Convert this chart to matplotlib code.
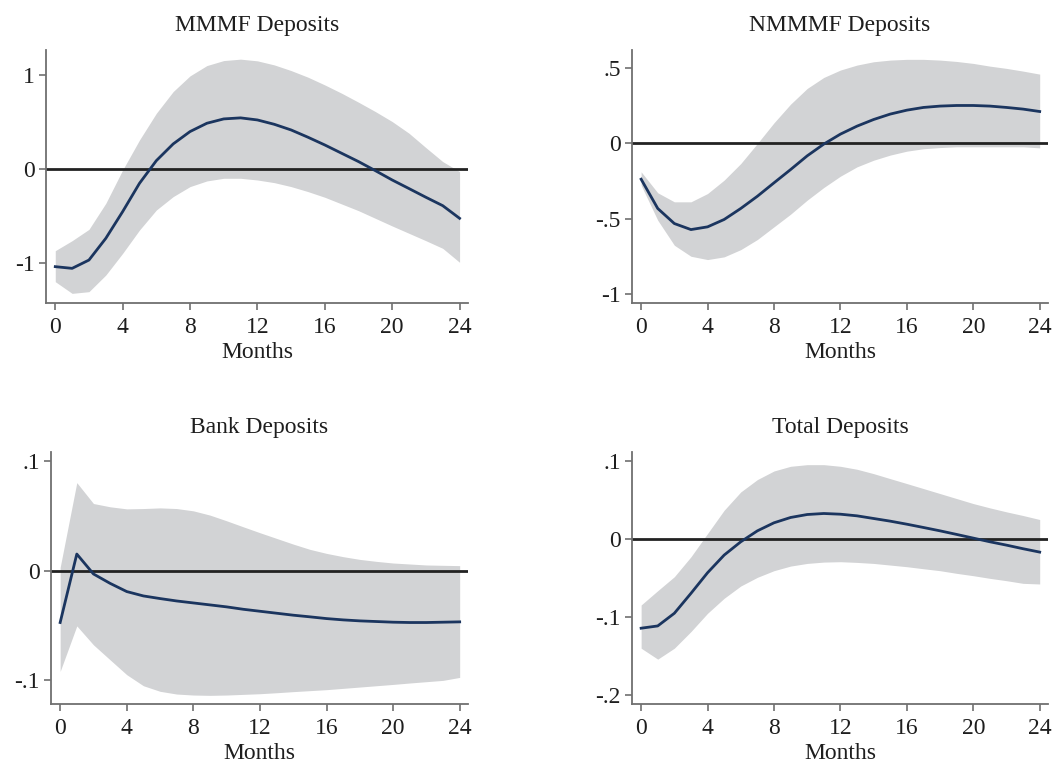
import numpy as np
import matplotlib
matplotlib.use("Agg")
import matplotlib.pyplot as plt

plt.rcParams['font.family'] = ['Liberation Serif', 'DejaVu Serif']

months = np.arange(25)

# point estimates and confidence bands, one set per panel
mmmf_irf = [-1.035, -1.053, -0.965, -0.735, -0.452, -0.152, 0.088, 0.265, 0.396, 0.484,
            0.530, 0.541, 0.519, 0.473, 0.413, 0.336, 0.254, 0.166, 0.078, -0.018,
            -0.117, -0.208, -0.300, -0.389, -0.523]
mmmf_hi = [-0.866, -0.760, -0.640, -0.364, -0.011, 0.307, 0.590, 0.820, 0.986, 1.095,
           1.148, 1.163, 1.145, 1.102, 1.042, 0.972, 0.890, 0.802, 0.707, 0.608,
           0.502, 0.378, 0.226, 0.078, -0.028]
mmmf_lo = [-1.194, -1.318, -1.300, -1.124, -0.894, -0.647, -0.435, -0.293, -0.187, -0.127,
           -0.099, -0.099, -0.117, -0.145, -0.187, -0.240, -0.300, -0.371, -0.442, -0.523,
           -0.604, -0.682, -0.760, -0.841, -0.989]

nmmmf_irf = [-0.237, -0.431, -0.531, -0.571, -0.553, -0.504, -0.431, -0.350, -0.261, -0.173,
             -0.082, -0.004, 0.062, 0.115, 0.159, 0.195, 0.221, 0.239, 0.248, 0.252,
             0.252, 0.248, 0.239, 0.228, 0.212]
nmmmf_hi = [-0.188, -0.327, -0.387, -0.387, -0.332, -0.243, -0.133, 0.000, 0.137, 0.261,
            0.365, 0.438, 0.487, 0.520, 0.542, 0.553, 0.558, 0.558, 0.553, 0.544,
            0.531, 0.513, 0.498, 0.480, 0.460]
nmmmf_lo = [-0.277, -0.509, -0.675, -0.748, -0.770, -0.752, -0.704, -0.637, -0.553, -0.469,
            -0.376, -0.292, -0.217, -0.155, -0.111, -0.077, -0.051, -0.035, -0.027, -0.022,
            -0.022, -0.022, -0.022, -0.022, -0.029]

bank_irf = [-0.0474, 0.0152, -0.0030, -0.0116, -0.0191, -0.0231, -0.0255, -0.0277, -0.0295,
            -0.0313, -0.0331, -0.0353, -0.0371, -0.0389, -0.0407, -0.0422, -0.0438, -0.0450,
            -0.0459, -0.0465, -0.0471, -0.0474, -0.0474, -0.0471, -0.0468]
bank_hi = [0.0030, 0.0805, 0.0614, 0.0584, 0.0565, 0.0568, 0.0574, 0.0568, 0.0547, 0.0508,
           0.0456, 0.0401, 0.0347, 0.0295, 0.0243, 0.0195, 0.0158, 0.0128, 0.0103, 0.0085,
           0.0070, 0.0061, 0.0052, 0.0049, 0.0046]
bank_lo = [-0.0921, -0.0505, -0.0678, -0.0815, -0.0951, -0.1052, -0.1103, -0.1128, -0.1137,
           -0.1140, -0.1137, -0.1131, -0.1125, -0.1116, -0.1106, -0.1097, -0.1088, -0.1076,
           -0.1064, -0.1052, -0.1040, -0.1027, -0.1015, -0.1003, -0.0976]

total_irf = [-0.1140, -0.1111, -0.0949, -0.0694, -0.0430, -0.0204, -0.0034, 0.0106, 0.0209,
             0.0277, 0.0315, 0.0328, 0.0319, 0.0298, 0.0264, 0.0230, 0.0191, 0.0149, 0.0106,
             0.0060, 0.0013, -0.0034, -0.0077, -0.0123, -0.0166]
total_hi = [-0.0843, -0.0660, -0.0481, -0.0226, 0.0072, 0.0370, 0.0604, 0.0762, 0.0872,
            0.0932, 0.0953, 0.0953, 0.0932, 0.0894, 0.0838, 0.0774, 0.0711, 0.0647, 0.0583,
            0.0519, 0.0455, 0.0400, 0.0349, 0.0302, 0.0251]
total_lo = [-0.1396, -0.1536, -0.1396, -0.1183, -0.0949, -0.0757, -0.0600, -0.0489, -0.0404,
            -0.0345, -0.0311, -0.0294, -0.0289, -0.0298, -0.0311, -0.0332, -0.0353, -0.0379,
            -0.0404, -0.0438, -0.0468, -0.0502, -0.0532, -0.0566, -0.0574]

titles = ["MMMF Deposits", "NMMMF Deposits", "Bank Deposits", "Total Deposits"]
ytick_vals = [[-1, 0, 1], [-1, -0.5, 0, 0.5], [-0.1, 0, 0.1], [-0.2, -0.1, 0, 0.1]]
ytick_labels = [["-1", "0", "1"], ["-1", "-.5", "0", ".5"], ["-.1", "0", ".1"],
                ["-.2", "-.1", "0", ".1"]]
ylims = [(-1.42, 1.26), (-1.058, 0.62), (-0.1219, 0.1085), (-0.211, 0.1115)]
xticks = [0, 4, 8, 12, 16, 20, 24]

panels = [(mmmf_irf, mmmf_lo, mmmf_hi), (nmmmf_irf, nmmmf_lo, nmmmf_hi),
          (bank_irf, bank_lo, bank_hi), (total_irf, total_lo, total_hi)]

W, H = 1052, 767
# axes boxes in pixels: left, right, top, bottom
boxes = [(46, 468, 50, 303), (632, 1048, 50, 303),
         (51, 468, 452, 704), (632, 1048, 452, 704)]

fig = plt.figure(figsize=(W / 100, H / 100), dpi=100)
fig.patch.set_facecolor("white")

band_col = "#d2d3d5"
line_col = "#1b355f"
spine_col = "#707070"
text_col = "#1e1e1e"

for i, (irf, lo, hi) in enumerate(panels):
    l, r, t, b = boxes[i]
    ax = fig.add_axes([l / W, 1 - b / H, (r - l) / W, (b - t) / H])
    ax.fill_between(months, lo, hi, color=band_col, linewidth=0, zorder=1)
    ax.axhline(0, color="#222222", linewidth=2.0, zorder=2)
    ax.plot(months, irf, color=line_col, linewidth=2.0, zorder=3)

    ax.set_xlim(-0.55, 24.5)
    ax.set_ylim(*ylims[i])
    ax.set_xticks(xticks)
    ax.set_yticks(ytick_vals[i])
    ax.set_yticklabels(ytick_labels[i])

    for side in ["top", "right"]:
        ax.spines[side].set_visible(False)
    for side in ["left", "bottom"]:
        ax.spines[side].set_color(spine_col)
        ax.spines[side].set_linewidth(1.3)
    ax.tick_params(axis="both", direction="out", length=5, width=1.2, color=spine_col,
                   labelsize=17, labelcolor=text_col, pad=3)
    ax.tick_params(axis="x", pad=5)
    ax.set_xlabel("Months", fontsize=17, color=text_col, labelpad=3)
    ax.set_title(titles[i], fontsize=17, color=text_col, pad=14)
    ax.set_facecolor("white")

fig.savefig("out.png", dpi=100, facecolor="white")
